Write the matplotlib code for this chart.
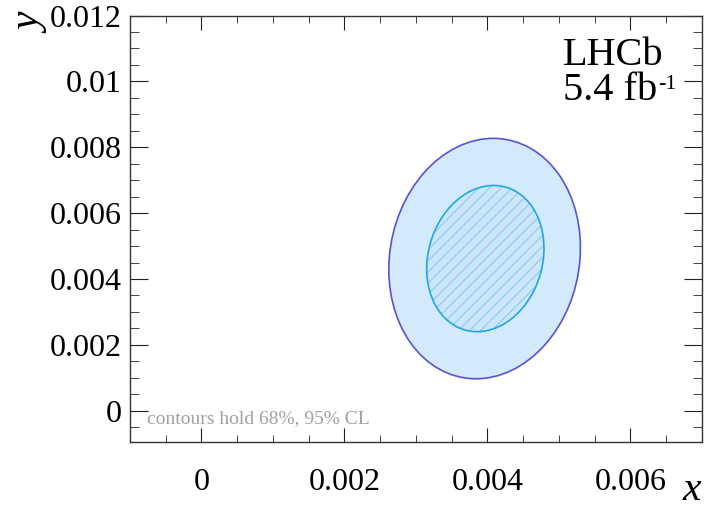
import numpy as np
import matplotlib
matplotlib.use("Agg")
import matplotlib.pyplot as plt
from matplotlib.patches import Ellipse
from matplotlib.ticker import MultipleLocator, FuncFormatter

plt.rcParams['font.family'] = ['Liberation Serif', 'DejaVu Serif']
plt.rcParams['hatch.linewidth'] = 0.9

# contour data (68% and 95% CL regions)
cl_levels = ["68%", "95%"]
center_x = [0.00397, 0.00396]
center_y = [0.00462, 0.00462]
half_x = [0.00082, 0.00134]   # half extent along x
half_y = [0.00222, 0.00365]   # half extent along y
corr = [0.14, 0.09]

x_ticks = [0, 0.002, 0.004, 0.006]
y_ticks = [0, 0.002, 0.004, 0.006, 0.008, 0.01, 0.012]

face_cols = ["#cde6fb", "#d3e9fc"]
edge_cols = ["#1fa8e2", "#5a52d6"]
hatch_col = "#8dd0f1"


def ellipse_shape(hx, hy, r):
    cov = np.array([[hx**2, r*hx*hy], [r*hx*hy, hy**2]])
    vals, vecs = np.linalg.eigh(cov)
    v = vecs[:, 1]
    ang = np.degrees(np.arctan2(v[1], v[0]))
    return 2*np.sqrt(vals[1]), 2*np.sqrt(vals[0]), ang


fig = plt.figure(figsize=(7.08, 5.09), dpi=100)
ax = fig.add_axes([0.1836, 0.1316, 0.8079, 0.8379])

# draw outer (95%) first, inner (68%) on top
for i in [1, 0]:
    w, h, a = ellipse_shape(half_x[i], half_y[i], corr[i])
    c = (center_x[i], center_y[i])
    if i == 0:
        ax.add_patch(Ellipse(c, w, h, angle=a, facecolor=face_cols[i],
                             edgecolor=hatch_col, hatch='///', lw=0, zorder=2))
    else:
        ax.add_patch(Ellipse(c, w, h, angle=a, facecolor=face_cols[i],
                             edgecolor='none', zorder=2))
    ax.add_patch(Ellipse(c, w, h, angle=a, facecolor='none',
                         edgecolor=edge_cols[i], lw=1.2, zorder=3))

ax.set_xlim(-0.001, 0.007)
ax.set_ylim(-0.00095, 0.012)
ax.set_xticks(x_ticks)
ax.set_yticks(y_ticks)
fmt = FuncFormatter(lambda v, p: "%g" % round(v, 6))
ax.xaxis.set_major_formatter(fmt)
ax.yaxis.set_major_formatter(fmt)
ax.xaxis.set_minor_locator(MultipleLocator(0.0005))
ax.yaxis.set_minor_locator(MultipleLocator(0.0005))

ax.tick_params(which='both', direction='in', top=True, right=True,
               labelsize=23, color='#222222')
ax.tick_params(axis='x', which='major', length=10, pad=19)
ax.tick_params(axis='x', which='minor', length=5)
ax.tick_params(axis='y', which='major', length=13, pad=6)
ax.tick_params(axis='y', which='minor', length=6.3)
for s in ax.spines.values():
    s.set_linewidth(1.0)
    s.set_color('#333333')

fig.text(31/708, 1 - 24/509, "y", rotation=90, style='italic',
         fontsize=30, ha='center', va='center')
fig.text(701/708, 9/509, "x", style='italic', fontsize=30,
         ha='right', va='baseline')

fig.text(563/708, 1 - 65/509, "LHCb", fontsize=29, ha='left', va='baseline')
lumi = fig.text(563/708, 1 - 100/509, "5.4 fb", fontsize=29,
                ha='left', va='baseline')
ax.annotate("-1", xy=(1.0, 1.0), xycoords=lumi, xytext=(0.5, -2),
            textcoords='offset points', fontsize=16, ha='left', va='top',
            annotation_clip=False)
fig.text(147/708, 1 - 423/509, "contours hold 68%, 95% CL", fontsize=14,
         color='#a0a0a0', ha='left', va='baseline')

fig.savefig("out.png", dpi=100)
